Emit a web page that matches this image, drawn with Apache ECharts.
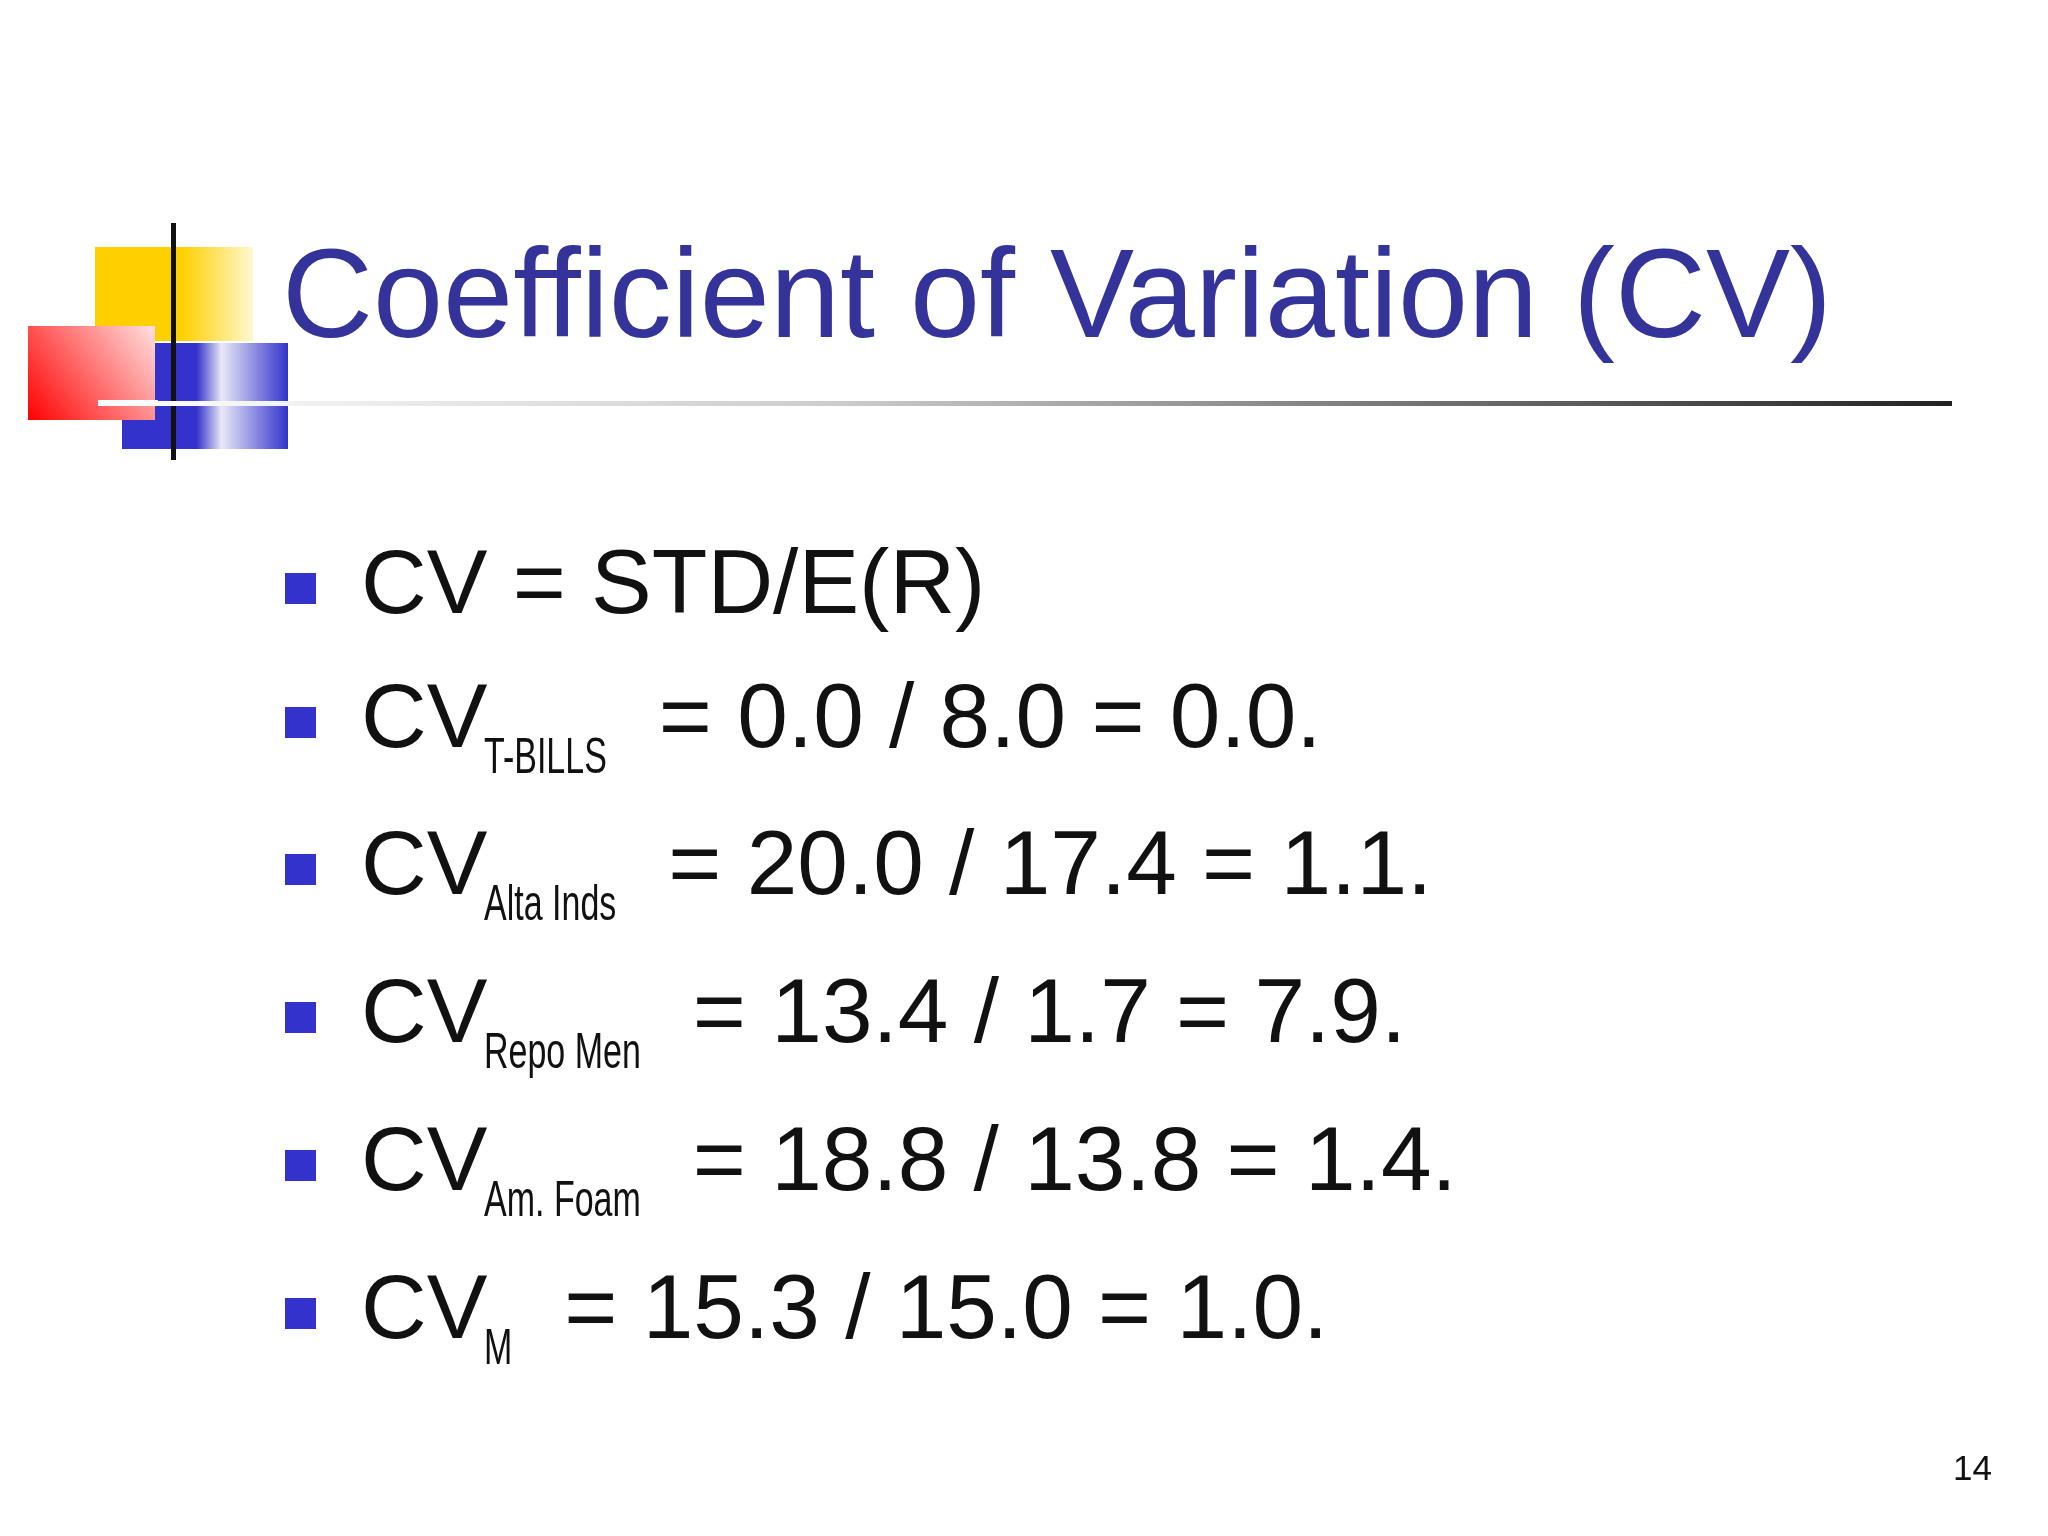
<!DOCTYPE html>
<html><head><meta charset="utf-8">
<script src="https://cdn.jsdelivr.net/npm/echarts@6/dist/echarts.min.js"></script>
<style>html,body{margin:0;background:#fff}#c{width:2048px;height:1536px}</style>
</head><body><div id="c"></div>
<script>
const titleText = "Coefficient of Variation (CV)";
const formulaText = "CV = STD/E(R)";
const subscripts = ["T-BILLS", "Alta Inds", "Repo Men", "Am. Foam", "M"];
const stdValues = ["0.0", "20.0", "13.4", "18.8", "15.3"];
const expReturns = ["8.0", "17.4", "1.7", "13.8", "15.0"];
const cvValues = ["0.0", "1.1", "7.9", "1.4", "1.0"];
const pageNumber = "14";

const chart = echarts.init(document.getElementById('c'));
const mainFont = '"Liberation Sans", Arial, sans-serif';
const subFont = '"Liberation Sans", Arial, sans-serif';
const cnv = document.createElement('canvas').getContext('2d');
function w(txt, font){ cnv.font = font; return cnv.measureText(txt).width; }

const g = [];
g.push({type:'rect', shape:{x:95,y:247,width:158,height:94}, style:{fill:new echarts.graphic.LinearGradient(0,0,1,0,[{offset:0,color:'#ffd000'},{offset:0.55,color:'#ffd000'},{offset:1,color:'#fff8d0'}])}});
g.push({type:'rect', shape:{x:122,y:343,width:166,height:106}, style:{fill:new echarts.graphic.LinearGradient(0,0,1,0,[{offset:0,color:'#3333cc'},{offset:0.45,color:'#3333cc'},{offset:0.6,color:'#e8e8f8'},{offset:1,color:'#3333cc'}])}});
g.push({type:'rect', shape:{x:28,y:326,width:127,height:94}, style:{fill:new echarts.graphic.LinearGradient(0,1,1,0,[{offset:0,color:'#ff0000'},{offset:1,color:'#ffe0e0'}])}});
g.push({type:'rect', shape:{x:171,y:223,width:5,height:237}, style:{fill:'#111'}});
g.push({type:'rect', shape:{x:98,y:401,width:1854,height:5}, style:{fill:new echarts.graphic.LinearGradient(0,0,1,0,[{offset:0,color:'#ffffff'},{offset:0.4,color:'#cccccc'},{offset:1,color:'#222222'}])}});
g.push({type:'rect', shape:{x:98,y:400,width:60,height:3}, style:{fill:'#fff'}});
g.push({type:'text', x:282, y:302, style:{text:titleText, font:'126px '+mainFont, fill:'#333399', textVerticalAlign:'middle'}});

const rowsY = [588,722,869,1017,1165,1313];
const mainSize = 91, subSize = 50, subScale = 0.68;
function bullet(y){ g.push({type:'rect', shape:{x:285,y:y-15,width:31,height:31}, style:{fill:'#3333cc'}}); }
bullet(rowsY[0]);
g.push({type:'text', x:361, y:rowsY[0], style:{text:formulaText, font:mainSize+'px '+mainFont, fill:'#111', textVerticalAlign:'middle'}});
const subX = 484;
for (let i=0;i<subscripts.length;i++){
  const y = rowsY[i+1];
  bullet(y);
  g.push({type:'text', x:361, y:y, style:{text:'CV', font:mainSize+'px '+mainFont, fill:'#111', textVerticalAlign:'middle'}});
  const sf = subSize+'px '+subFont;
  g.push({type:'text', x:subX, y:y+12, scaleX:subScale, style:{text:subscripts[i], font:sf, fill:'#111', textVerticalAlign:'top'}});
  const ex = subX + w(subscripts[i], sf)*subScale + 52;
  g.push({type:'text', x:ex, y:y, style:{text:'= '+stdValues[i]+' / '+expReturns[i]+' = '+cvValues[i]+'.', font:mainSize+'px '+mainFont, fill:'#111', textVerticalAlign:'middle'}});
}
g.push({type:'text', x:1992, y:1470, style:{text:pageNumber, font:'35px '+mainFont, fill:'#111', textAlign:'right', textVerticalAlign:'middle'}});
chart.setOption({animation:false, graphic:g});
</script></body></html>
